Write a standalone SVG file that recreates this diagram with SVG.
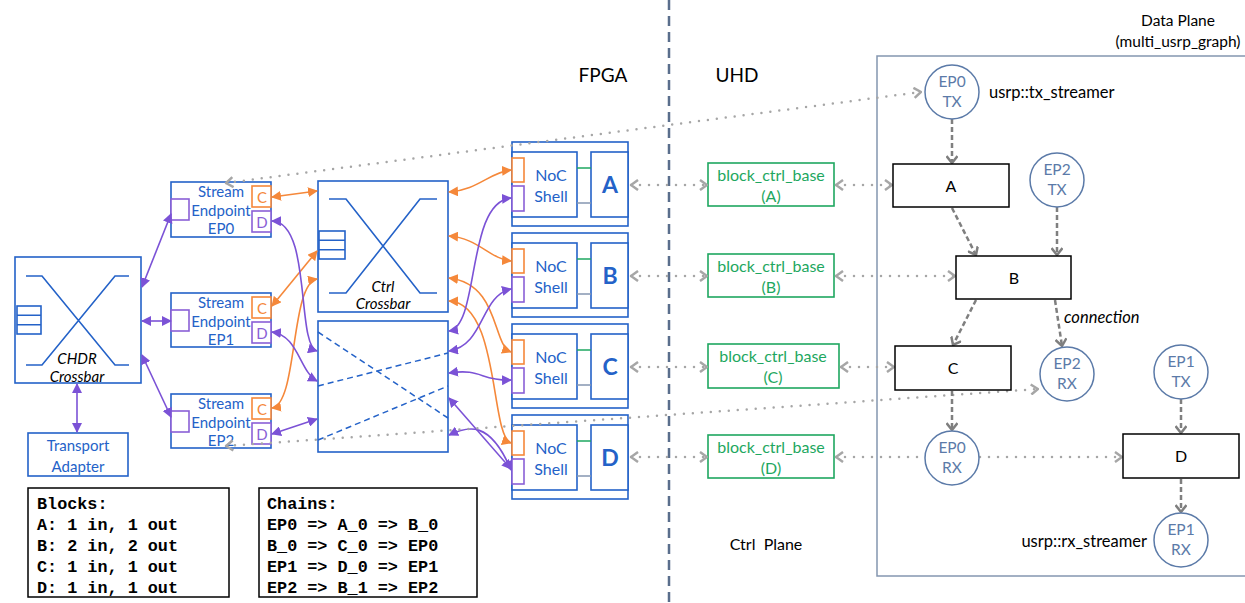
<svg xmlns="http://www.w3.org/2000/svg" width="1245" height="603" viewBox="0 0 1245 603">
<style>
.bx{fill:#fff;stroke:#2462c8;stroke-width:1.6}
.bl{fill:none;stroke:#2462c8;stroke-width:1.6}
.t{font-family:Lato,"Liberation Sans",sans-serif;text-anchor:middle}
.tb{fill:#2462c8;font-size:15px}
.nt{fill:#2462c8;font-size:16px}
.op{fill:#fff;stroke:#f5883a;stroke-width:1.6}
.pp{fill:#fff;stroke:#8a5fd6;stroke-width:1.6}
.oa{fill:none;stroke:#f5883a;stroke-width:1.6;marker-start:url(#ao);marker-end:url(#ao)}
.pa{fill:none;stroke:#7b52d6;stroke-width:1.6;marker-start:url(#ap);marker-end:url(#ap)}
.dot{fill:none;stroke:#a6a6a6;stroke-width:2.5;stroke-linecap:round;stroke-dasharray:0 9}
.dash{fill:none;stroke:#7f7f7f;stroke-width:2.5;stroke-dasharray:5 3}
.gb{fill:#fff;stroke:#1ea760;stroke-width:1.6}
.gt{fill:#1ea760;font-size:16px}
.circ{fill:#fff;stroke:#5b7aa8;stroke-width:1.5}
.ct{fill:#5b7aa8;font-size:15.5px}
.db{fill:#fff;stroke:#000;stroke-width:1.5}
.dt{fill:#000;font-size:16px}
.lb{font-family:Lato,"Liberation Sans",sans-serif;font-size:16.5px;fill:#000}
.it{font-size:15px;font-style:italic}
.mono{font-family:"Liberation Mono",monospace;font-weight:bold;font-size:16.8px;fill:#000}
</style>
<defs>
<marker id="ao" viewBox="0 0 10 10" refX="9" refY="5" markerWidth="10" markerHeight="10" markerUnits="userSpaceOnUse" orient="auto-start-reverse"><path d="M0,0 L10,5 L0,10 z" fill="#f5883a"/></marker>
<marker id="ap" viewBox="0 0 10 10" refX="9" refY="5" markerWidth="10" markerHeight="10" markerUnits="userSpaceOnUse" orient="auto-start-reverse"><path d="M0,0 L10,5 L0,10 z" fill="#7b52d6"/></marker>
<marker id="cg" viewBox="0 0 10 12" refX="9" refY="6" markerWidth="10" markerHeight="12" markerUnits="userSpaceOnUse" orient="auto-start-reverse"><path d="M2,1 L9,6 L2,11" fill="none" stroke="#a6a6a6" stroke-width="2.5"/></marker>
<marker id="cd2" viewBox="0 0 10 12" refX="9" refY="6" markerWidth="10" markerHeight="12" markerUnits="userSpaceOnUse" orient="auto"><path d="M2,0.5 L9,6 L2,11.5" fill="none" stroke="#7f7f7f" stroke-width="2.5"/></marker>
</defs>

<!-- separator and headings -->
<line x1="669" y1="0" x2="669" y2="603" stroke="#5a6e8c" stroke-width="2.5" stroke-dasharray="10 6"/>
<text class="t" x="603" y="82" font-size="19">FPGA</text>
<text class="t" x="737" y="82" font-size="19">UHD</text>
<text class="t" x="766" y="550" font-size="16" xml:space="preserve">Ctrl  Plane</text>
<text class="t" x="1178" y="26" font-size="15.5">Data Plane</text>
<text class="t" x="1178" y="47" font-size="15.5">(multi_usrp_graph)</text>
<rect x="877" y="56" width="400" height="520" fill="none" stroke="#8496b0" stroke-width="1.5"/>

<!-- CHDR crossbar -->
<g id="chdr">
<rect class="bx" x="15" y="257" width="126" height="126"/>
<path class="bl" d="M26,276 H42 L115,365 H129 M26,365 H42 L115,276 H129"/>
<rect class="bx" x="17" y="306" width="24" height="28"/>
<path class="bl" d="M17,315.3 H41 M17,324.7 H41"/>
<text class="t it" x="77" y="364">CHDR</text>
<text class="t it" x="77" y="382">Crossbar</text>
</g>
<g id="transport">
<rect class="bx" x="28" y="433" width="100" height="43"/>
<text class="t tb" x="78" y="451" font-size="17">Transport</text>
<text class="t tb" x="78" y="472" font-size="17">Adapter</text>
</g>

<!-- Stream endpoints -->
<g id="sep0">
<rect class="bx" x="171" y="182" width="100" height="55"/>
<rect class="pp" x="171" y="199" width="18" height="21"/>
<rect class="op" x="252" y="186" width="19" height="21"/>
<rect class="pp" x="252" y="211" width="19" height="21"/>
<text class="t" x="262" y="203" font-size="15" fill="#f5883a">C</text>
<text class="t" x="262" y="228" font-size="15" fill="#8a5fd6">D</text>
<text class="t tb" x="221" y="197">Stream</text>
<text class="t tb" x="221" y="216">Endpoint</text>
<text class="t tb" x="221" y="234">EP0</text>
</g>
<g id="sep1">
<rect class="bx" x="171" y="293" width="100" height="54"/>
<rect class="pp" x="171" y="310" width="18" height="21"/>
<rect class="op" x="252" y="297" width="19" height="21"/>
<rect class="pp" x="252" y="322" width="19" height="21"/>
<text class="t" x="262" y="314" font-size="15" fill="#f5883a">C</text>
<text class="t" x="262" y="339" font-size="15" fill="#8a5fd6">D</text>
<text class="t tb" x="221" y="308">Stream</text>
<text class="t tb" x="221" y="327">Endpoint</text>
<text class="t tb" x="221" y="345">EP1</text>
</g>
<g id="sep2">
<rect class="bx" x="171" y="394" width="100" height="54"/>
<rect class="pp" x="171" y="411" width="18" height="21"/>
<rect class="op" x="252" y="398" width="19" height="21"/>
<rect class="pp" x="252" y="423" width="19" height="21"/>
<text class="t" x="262" y="415" font-size="15" fill="#f5883a">C</text>
<text class="t" x="262" y="440" font-size="15" fill="#8a5fd6">D</text>
<text class="t tb" x="221" y="409">Stream</text>
<text class="t tb" x="221" y="428">Endpoint</text>
<text class="t tb" x="221" y="446">EP2</text>
</g>

<!-- Ctrl crossbar -->
<g id="ctrlxbar">
<rect class="bx" x="318" y="181" width="130" height="131"/>
<path class="bl" d="M329,199 H346 L420,293 H437 M329,293 H346 L420,199 H437"/>
<rect class="bx" x="319" y="231" width="26" height="28"/>
<path class="bl" d="M319,240.3 H345 M319,249.7 H345"/>
<text class="t it" x="383" y="292">Ctrl</text>
<text class="t it" x="383" y="309">Crossbar</text>
</g>
<g id="dataxbar">
<rect class="bx" x="318" y="321" width="130" height="131"/>
<path d="M318,332 L448,418 M318,386 L448,353 M318,440 L448,386" fill="none" stroke="#2462c8" stroke-width="1.5" stroke-dasharray="6 4"/>
</g>

<!-- NoC shells -->
<g id="nocA">
<rect class="bx" x="512" y="142" width="116" height="84"/>
<rect class="bx" x="512" y="152" width="65" height="65"/>
<rect class="bx" x="591" y="152" width="37" height="65"/>
<line x1="577" y1="168" x2="591" y2="168" stroke="#1ea760" stroke-width="1.5"/>
<line x1="577" y1="203" x2="591" y2="203" stroke="#8496b0" stroke-width="1.5"/>
<rect class="op" x="512" y="158" width="12" height="24"/>
<rect class="pp" x="512" y="186" width="12" height="25"/>
<text class="t nt" x="551" y="181">NoC</text>
<text class="t nt" x="551" y="202">Shell</text>
<text class="t" x="610" y="193" font-size="23" font-weight="bold" fill="#2462c8">A</text>
</g>
<g id="nocB">
<rect class="bx" x="512" y="233" width="116" height="84"/>
<rect class="bx" x="512" y="243" width="65" height="65"/>
<rect class="bx" x="591" y="243" width="37" height="65"/>
<line x1="577" y1="259" x2="591" y2="259" stroke="#1ea760" stroke-width="1.5"/>
<line x1="577" y1="294" x2="591" y2="294" stroke="#8496b0" stroke-width="1.5"/>
<rect class="op" x="512" y="249" width="12" height="24"/>
<rect class="pp" x="512" y="277" width="12" height="25"/>
<text class="t nt" x="551" y="272">NoC</text>
<text class="t nt" x="551" y="293">Shell</text>
<text class="t" x="610" y="284" font-size="23" font-weight="bold" fill="#2462c8">B</text>
</g>
<g id="nocC">
<rect class="bx" x="512" y="324" width="116" height="84"/>
<rect class="bx" x="512" y="334" width="65" height="65"/>
<rect class="bx" x="591" y="334" width="37" height="65"/>
<line x1="577" y1="350" x2="591" y2="350" stroke="#1ea760" stroke-width="1.5"/>
<line x1="577" y1="385" x2="591" y2="385" stroke="#8496b0" stroke-width="1.5"/>
<rect class="op" x="512" y="340" width="12" height="24"/>
<rect class="pp" x="512" y="368" width="12" height="25"/>
<text class="t nt" x="551" y="363">NoC</text>
<text class="t nt" x="551" y="384">Shell</text>
<text class="t" x="610" y="375" font-size="23" font-weight="bold" fill="#2462c8">C</text>
</g>
<g id="nocD">
<rect class="bx" x="512" y="415" width="116" height="84"/>
<rect class="bx" x="512" y="425" width="65" height="65"/>
<rect class="bx" x="591" y="425" width="37" height="65"/>
<line x1="577" y1="441" x2="591" y2="441" stroke="#1ea760" stroke-width="1.5"/>
<line x1="577" y1="476" x2="591" y2="476" stroke="#8496b0" stroke-width="1.5"/>
<rect class="op" x="512" y="431" width="12" height="24"/>
<rect class="pp" x="512" y="459" width="12" height="25"/>
<text class="t nt" x="551" y="454">NoC</text>
<text class="t nt" x="551" y="475">Shell</text>
<text class="t" x="610" y="466" font-size="23" font-weight="bold" fill="#2462c8">D</text>
</g>

<!-- block_ctrl_base -->
<g id="bcbA"><rect class="gb" x="708" y="163" width="126" height="43"/><text class="t gt" x="771" y="181">block_ctrl_base</text><text class="t gt" x="771" y="202">(A)</text></g>
<g id="bcbB"><rect class="gb" x="708" y="254" width="126" height="43"/><text class="t gt" x="771" y="272">block_ctrl_base</text><text class="t gt" x="771" y="293">(B)</text></g>
<g id="bcbC"><rect class="gb" x="708" y="344" width="131" height="44"/><text class="t gt" x="773" y="362">block_ctrl_base</text><text class="t gt" x="773" y="383">(C)</text></g>
<g id="bcbD"><rect class="gb" x="708" y="435" width="126" height="43"/><text class="t gt" x="771" y="453">block_ctrl_base</text><text class="t gt" x="771" y="474">(D)</text></g>

<!-- connectors -->
<g id="connectors">
<path class="pa" d="M77,384 L77,432"/>
<path class="pa" d="M142,287 L171,214"/>
<path class="pa" d="M142,321 L171,321"/>
<path class="pa" d="M142,355 L171,417"/>
<path class="oa" d="M272,197 L317,191"/>
<path class="oa" d="M272,306 L317,251"/>
<path class="oa" d="M272,408 C298,404 290,284 317,279"/>
<path class="pa" d="M272,221 C312,222 296,345 317,351"/>
<path class="pa" d="M272,332 C298,335 300,372 317,381"/>
<path class="pa" d="M272,434 L317,419"/>
<path class="oa" d="M449,192 C478,190 490,172 511,170"/>
<path class="oa" d="M449,236 C478,238 490,259 511,261"/>
<path class="oa" d="M449,278 C500,284 492,345 511,352"/>
<path class="oa" d="M449,301 C500,303 490,436 511,443"/>
<path class="pa" d="M449,331 C480,326 466,202 511,198"/>
<path class="pa" d="M449,351 C485,345 480,296 511,289"/>
<path class="pa" d="M449,373 C482,368 480,381 511,380"/>
<path class="pa" d="M449,398 L511,469"/>
<path class="pa" d="M449,435 C468,426 490,420 511,470"/>

<path class="dot" d="M226,183 L921,92" marker-start="url(#cg)" marker-end="url(#cg)"/>
<path class="dot" d="M226,446 L1038,389" marker-start="url(#cg)" marker-end="url(#cg)"/>
<path class="dot" d="M631,185 L707,185" marker-start="url(#cg)" marker-end="url(#cg)"/>
<path class="dot" d="M631,276 L707,276" marker-start="url(#cg)" marker-end="url(#cg)"/>
<path class="dot" d="M631,367 L707,367" marker-start="url(#cg)" marker-end="url(#cg)"/>
<path class="dot" d="M631,457 L707,457" marker-start="url(#cg)" marker-end="url(#cg)"/>
<path class="dot" d="M836,185 L892,185" marker-start="url(#cg)" marker-end="url(#cg)"/>
<path class="dot" d="M836,276 L955,276" marker-start="url(#cg)" marker-end="url(#cg)"/>
<path class="dot" d="M841,367 L894,367" marker-start="url(#cg)" marker-end="url(#cg)"/>
<path class="dot" d="M836,457 L1122,457" marker-start="url(#cg)" marker-end="url(#cg)"/>

<path class="dash" d="M952,119 L952,163" marker-end="url(#cd2)"/>
<path class="dash" d="M952,208 L976,255" marker-end="url(#cd2)"/>
<path class="dash" d="M1057,207 L1057,255" marker-end="url(#cd2)"/>
<path class="dash" d="M976,300 L953,345" marker-end="url(#cd2)"/>
<path class="dash" d="M1055,300 L1062,346" marker-end="url(#cd2)"/>
<path class="dash" d="M952,391 L952,430" marker-end="url(#cd2)"/>
<path class="dash" d="M1181,399 L1181,433" marker-end="url(#cd2)"/>
<path class="dash" d="M1181,479 L1181,512" marker-end="url(#cd2)"/>
</g>

<!-- data plane nodes -->
<g id="ep0tx"><circle class="circ" cx="952" cy="92" r="27"/><text class="t ct" x="952" y="87">EP0</text><text class="t ct" x="952" y="107">TX</text></g>
<text class="lb" x="989" y="98">usrp::tx_streamer</text>
<g id="blkA"><rect class="db" x="893" y="164" width="116" height="43"/><text class="t dt" x="951" y="192">A</text></g>
<g id="ep2tx"><circle class="circ" cx="1057" cy="180" r="27"/><text class="t ct" x="1057" y="175">EP2</text><text class="t ct" x="1057" y="195">TX</text></g>
<g id="blkB"><rect class="db" x="956" y="256" width="115" height="43"/><text class="t dt" x="1014" y="284">B</text></g>
<text class="lb" x="1064" y="323" font-style="italic">connection</text>
<g id="blkC"><rect class="db" x="895" y="346" width="116" height="44"/><text class="t dt" x="953" y="374">C</text></g>
<g id="ep2rx"><circle class="circ" cx="1067" cy="374" r="27"/><text class="t ct" x="1067" y="369">EP2</text><text class="t ct" x="1067" y="389">RX</text></g>
<g id="ep1tx"><circle class="circ" cx="1181" cy="372" r="27"/><text class="t ct" x="1181" y="367">EP1</text><text class="t ct" x="1181" y="387">TX</text></g>
<g id="ep0rx"><circle class="circ" cx="952" cy="458" r="27"/><text class="t ct" x="952" y="453">EP0</text><text class="t ct" x="952" y="473">RX</text></g>
<g id="blkD"><rect class="db" x="1123" y="434" width="116" height="44"/><text class="t dt" x="1181" y="462">D</text></g>
<g id="ep1rx"><circle class="circ" cx="1181" cy="540" r="27"/><text class="t ct" x="1181" y="535">EP1</text><text class="t ct" x="1181" y="555">RX</text></g>
<text class="lb" x="1147" y="547" text-anchor="end">usrp::rx_streamer</text>

<!-- legends -->
<g id="blocks">
<rect x="28" y="488" width="201" height="109" fill="#fff" stroke="#000" stroke-width="1.5"/>
<text class="mono" x="37" y="509">Blocks:</text>
<text class="mono" x="37" y="530">A: 1 in, 1 out</text>
<text class="mono" x="37" y="551">B: 2 in, 2 out</text>
<text class="mono" x="37" y="572">C: 1 in, 1 out</text>
<text class="mono" x="37" y="593">D: 1 in, 1 out</text>
</g>
<g id="chains">
<rect x="259" y="488" width="218" height="109" fill="#fff" stroke="#000" stroke-width="1.5"/>
<text class="mono" x="267" y="509">Chains:</text>
<text class="mono" x="267" y="530">EP0 =&gt; A_0 =&gt; B_0</text>
<text class="mono" x="267" y="551">B_0 =&gt; C_0 =&gt; EP0</text>
<text class="mono" x="267" y="572">EP1 =&gt; D_0 =&gt; EP1</text>
<text class="mono" x="267" y="593">EP2 =&gt; B_1 =&gt; EP2</text>
</g>
</svg>
